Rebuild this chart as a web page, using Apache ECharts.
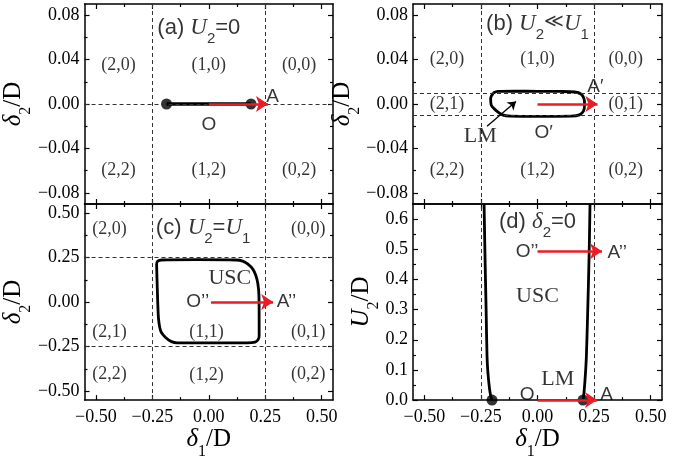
<!DOCTYPE html>
<html><head><meta charset="utf-8">
<script src="https://cdn.jsdelivr.net/npm/echarts@6/dist/echarts.min.js"></script>
<style>html,body{margin:0;padding:0;background:#fff}#c{width:689px;height:461px}</style>
</head><body><div id="c"></div>
<script>
// ---------------- data ----------------
const xTickValues = [-0.5, -0.25, 0, 0.25, 0.5];
const xTickLabels = ['−0.50', '−0.25', '0.00', '0.25', '0.50'];
const xMinorValues = [-0.375, -0.125, 0.125, 0.375];

const yTickValuesAB = [-0.08, -0.04, 0, 0.04, 0.08];
const yTickLabelsAB = ['−0.08', '−0.04', '0.00', '0.04', '0.08'];
const yMinorValuesAB = [-0.06, -0.02, 0.02, 0.06];

const yTickValuesC = [-0.5, -0.25, 0, 0.25, 0.5];
const yTickLabelsC = ['−0.50', '−0.25', '0.00', '0.25', '0.50'];
const yMinorValuesC = [-0.375, -0.125, 0.125, 0.375];

const yTickValuesD = [0, 0.1, 0.2, 0.3, 0.4, 0.5, 0.6];
const yTickLabelsD = ['0.0', '0.1', '0.2', '0.3', '0.4', '0.5', '0.6'];
const yMinorValuesD = [0.05, 0.15, 0.25, 0.35, 0.45, 0.55];

// phase boundaries (dashed)
const dashXA = [-0.25, 0.25], dashYA = [0];
const dashXB = [-0.25, 0.25], dashYB = [-0.01, 0.01];
const dashXC = [-0.25, 0.25], dashYC = [-0.25, 0.25];
const dashXD = [-0.25, 0.25];

// (a) LM segment with end dots
const lineA = [[-0.187, 0], [0.187, 0]];
// (b) LM loop
const loopB = [[-0.195,0.0100],[-0.175,0.0113],[-0.10,0.0115],[0.0,0.0114],[0.10,0.0113],[0.165,0.0108],[0.192,0.0090],[0.205,0.0050],[0.208,-0.0005],[0.203,-0.0065],[0.185,-0.0098],[0.150,-0.0110],[0.0,-0.0112],[-0.120,-0.0110],[-0.155,-0.0098],[-0.185,-0.0055],[-0.205,-0.0005],[-0.207,0.0050],[-0.195,0.0100]];
// (c) USC loop
const loopC = [[-0.231,0.215],[-0.226,0.230],[-0.210,0.236],[-0.05,0.238],[0.120,0.236],[0.150,0.230],[0.172,0.214],[0.195,0.185],[0.208,0.150],[0.217,0.105],[0.222,0.04],[0.223,-0.10],[0.223,-0.190],[0.218,-0.212],[0.205,-0.225],[0.170,-0.229],[-0.140,-0.229],[-0.165,-0.222],[-0.190,-0.200],[-0.212,-0.165],[-0.222,-0.100],[-0.226,0.0],[-0.229,0.120],[-0.231,0.215]];
// (d) boundaries
const curveDLeft = [[-0.201,0],[-0.207,0.015],[-0.212,0.038],[-0.219,0.09],[-0.223,0.146],[-0.227,0.30],[-0.232,0.48],[-0.236,0.65]];
const curveDRight = [[0.201,0],[0.204,0.015],[0.207,0.038],[0.212,0.09],[0.216,0.146],[0.222,0.30],[0.228,0.48],[0.232,0.65]];
const dotsD = [[-0.201, 0], [0.201, 0]];

// arrows [x1, y1, x2, y2]
const arrowsA = [[0, 0, 0.262, 0]];
const arrowsB = [[0, 0, 0.265, 0]];
const arrowsC = [[0.01, 0, 0.285, 0]];
const arrowsD = [[0, 0.493, 0.285, 0.493], [0, 0, 0.263, 0]];
const lmArrowB = [[-0.223, -0.020, -0.095, 0.0023]];

// region labels [text, x, y]
const regionA = [['(2,0)',-0.40,0.035],['(1,0)',0,0.035],['(0,0)',0.40,0.035],['(2,2)',-0.40,-0.060],['(1,2)',0,-0.060],['(0,2)',0.40,-0.060]];
const regionB = [['(2,0)',-0.40,0.04],['(1,0)',0,0.04],['(0,0)',0.39,0.04],['(2,1)',-0.40,0],['(0,1)',0.39,0],['(2,2)',-0.40,-0.06],['(1,2)',0,-0.06],['(0,2)',0.39,-0.06]];
const regionC = [['(2,0)',-0.44,0.41],['(0,0)',0.44,0.41],['(2,1)',-0.44,-0.167],['(1,1)',-0.01,-0.167],['(0,1)',0.44,-0.167],['(2,2)',-0.44,-0.404],['(1,2)',-0.01,-0.413],['(0,2)',0.44,-0.404]];
// point labels (sans)
const pointA = [['O',0,-0.019],['A',0.282,0.0068]];
const pointB = [['A′',0.256,0.0152],['O′',0.027,-0.026]];
const pointC = [['O’’',-0.049,0],['A’’',0.344,0]];
const pointD = [['O’’',-0.046,0.493],['A’’',0.352,0.49],['O',-0.046,0.019],['A',0.305,0.019]];
// phase names (serif)
const phaseB = [['LM',-0.253,-0.029]];
const phaseC = [['USC',0.093,0.134]];
const phaseD = [['USC',0,0.345],['LM',0.09,0.07]];
// panel titles
const titleA = [['{p|(a) }{u|U}{s|2}{p|=0}', -0.044, 0.0675]];
const titleB = [['{p|(b) }{u|U}{s|2}{q|≪}{u|U}{s|1}', 0, 0.071]];
const titleC = [['{p|(c) }{u|U}{s|2}{p|=}{u|U}{s|1}', -0.025, 0.408]];
const titleD = [['{p|(d) }{u|δ}{s|2}{p|=0}', 0, 0.586]];

// ---------------- build ----------------
const SERIF = 'Liberation Serif', SANS = 'Liberation Sans';
const RED = '#ec1c24';

function fmt(values, labels) {
  return v => { const i = values.findIndex(t => Math.abs(t - v) < 1e-9); return i >= 0 ? labels[i] : ''; };
}
const nameRich = {
  d: { fontFamily: SERIF, fontStyle: 'italic', fontSize: 25, lineHeight: 27, verticalAlign: 'top', color: '#000' },
  n: { fontFamily: SERIF, fontSize: 25, lineHeight: 27, verticalAlign: 'top', color: '#000' },
  s: { fontFamily: SERIF, fontSize: 16, lineHeight: 16, padding: [17, 0, 0, 0], verticalAlign: 'top', color: '#000' }
};

function axes(grid, pos1, pos2, min, max, majors, minors, labels, showLabels, name, margin) {
  const base = (pos, ticks, len, line, lab) => ({
    type: 'value', gridIndex: grid, position: pos, min, max,
    axisLine: { show: line, onZero: false, lineStyle: { color: '#000', width: 1.5 } },
    splitLine: { show: false },
    axisTick: { show: true, inside: true, length: len, customValues: ticks, lineStyle: { color: '#000', width: 1.2 } },
    axisLabel: lab ? { show: true, customValues: majors, formatter: fmt(majors, labels), fontFamily: SERIF, fontSize: 18, color: '#000', margin: margin } : { show: false },
    axisPointer: { show: false }
  });
  const main = base(pos1, majors, 5, true, showLabels);
  if (name) {
    main.name = name.text; main.nameLocation = 'middle'; main.nameGap = name.gap;
    main.nameTextStyle = { rich: nameRich };
  }
  return [main, base(pos1, minors, 3, false, false), base(pos2, majors, 5, true, false), base(pos2, minors, 3, false, false)];
}

const xName = { text: '{d|δ}{s|1}{n|/D}', gap: 23 };
const yNameD2 = { text: '{d|δ}{s|2}{n|/D}', gap: 29 };
const yNameU2 = { text: '{d|U}{s|2}{n|/D}', gap: 29 };

const xAxis = [].concat(
  axes(0, 'bottom', 'top', -0.55, 0.55, xTickValues, xMinorValues, xTickLabels, false, null, 8),
  axes(1, 'bottom', 'top', -0.55, 0.55, xTickValues, xMinorValues, xTickLabels, false, null, 8),
  axes(2, 'bottom', 'top', -0.55, 0.55, xTickValues, xMinorValues, xTickLabels, true, xName, 8),
  axes(3, 'bottom', 'top', -0.55, 0.55, xTickValues, xMinorValues, xTickLabels, true, xName, 8)
);
const yAxis = [].concat(
  axes(0, 'left', 'right', -0.09, 0.09, yTickValuesAB, yMinorValuesAB, yTickLabelsAB, true, yNameD2, 5),
  axes(1, 'left', 'right', -0.09, 0.09, yTickValuesAB, yMinorValuesAB, yTickLabelsAB, true, yNameD2, 5),
  axes(2, 'left', 'right', -0.55, 0.55, yTickValuesC, yMinorValuesC, yTickLabelsC, true, yNameD2, 5),
  axes(3, 'left', 'right', 0, 0.65, yTickValuesD, yMinorValuesD, yTickLabelsD, true, yNameU2, 5)
);

const series = [];
const ax = g => ({ xAxisIndex: 4 * g, yAxisIndex: 4 * g });

function dashed(g, xs, ys) {
  series.push(Object.assign({
    type: 'line', data: [], silent: true, z: 1,
    markLine: {
      silent: true, symbol: ['none', 'none'], label: { show: false }, animation: false,
      lineStyle: { type: [4, 3], color: '#333', width: 1 },
      emphasis: { disabled: true },
      data: xs.map(v => ({ xAxis: v })).concat(ys.map(v => ({ yAxis: v })))
    }
  }, ax(g)));
}
function curve(g, data, smooth, width) {
  series.push(Object.assign({
    type: 'line', data, symbol: 'none', smooth: smooth || false, silent: true, z: 3,
    lineStyle: { color: '#000', width: width || 2.8 }
  }, ax(g)));
}
function dots(g, data) {
  series.push(Object.assign({
    type: 'scatter', data, symbol: 'circle', symbolSize: 11, silent: true, z: 4,
    itemStyle: { color: '#000' }
  }, ax(g)));
}
function arrows(g, list, color, width, size) {
  series.push(Object.assign({
    type: 'line', data: [], silent: true, z: 5,
    markLine: {
      silent: true, symbol: ['none', 'arrow'], symbolSize: size, label: { show: false }, animation: false,
      lineStyle: { type: 'solid', color, width }, emphasis: { disabled: true },
      data: list.map(a => [{ coord: [a[0], a[1]] }, { coord: [a[2], a[3]] }])
    }
  }, ax(g)));
}
function texts(g, list, style) {
  series.push(Object.assign({
    type: 'scatter', symbolSize: 0, silent: true, z: 6,
    data: list.map(t => ({ value: [t[1], t[2]], name: t[0] })),
    label: Object.assign({ show: true, position: 'inside', formatter: '{b}', color: '#000' }, style)
  }, ax(g)));
}
const regionStyle = { fontFamily: SERIF, fontSize: 18 };
const pointStyle = { fontFamily: SANS, fontSize: 19 };
const phaseStyle = { fontFamily: SERIF, fontSize: 22 };
const titleStyle = {
  rich: {
    p: { fontFamily: SANS, fontSize: 22, lineHeight: 25, verticalAlign: 'top', color: '#000' },
    q: { fontFamily: 'DejaVu Sans', fontSize: 19, lineHeight: 25, verticalAlign: 'top', color: '#000' },
    u: { fontFamily: SERIF, fontStyle: 'italic', fontSize: 23, lineHeight: 25, verticalAlign: 'top', color: '#000' },
    s: { fontFamily: SANS, fontSize: 15, lineHeight: 15, padding: [15, 0, 0, 0], verticalAlign: 'top', color: '#000' }
  }
};

// (a)
dashed(0, dashXA, dashYA);
curve(0, lineA, false, 3.5);
dots(0, lineA);
arrows(0, arrowsA, RED, 2.5, 12);
texts(0, regionA, regionStyle);
texts(0, pointA, pointStyle);
texts(0, titleA, titleStyle);
// (b)
dashed(1, dashXB, dashYB);
curve(1, loopB, 0.3);
arrows(1, arrowsB, RED, 2.5, 12);
arrows(1, lmArrowB, '#000', 1.3, 8);
texts(1, regionB, regionStyle);
texts(1, pointB, pointStyle);
texts(1, phaseB, phaseStyle);
texts(1, titleB, titleStyle);
// (c)
dashed(2, dashXC, dashYC);
curve(2, loopC, 0.3);
arrows(2, arrowsC, RED, 2.5, 12);
texts(2, regionC, regionStyle);
texts(2, pointC, pointStyle);
texts(2, phaseC, phaseStyle);
texts(2, titleC, titleStyle);
// (d)
dashed(3, dashXD, []);
curve(3, curveDLeft, 0.3);
curve(3, curveDRight, 0.3);
dots(3, dotsD);
arrows(3, arrowsD, RED, 2.5, 12);
texts(3, pointD, pointStyle);
texts(3, phaseD, phaseStyle);
texts(3, titleD, titleStyle);

const chart = echarts.init(document.getElementById('c'), null, { renderer: 'canvas' });
chart.setOption({
  animation: false,
  backgroundColor: '#fff',
  textStyle: { fontFamily: SERIF },
  grid: [
    { left: 84, top: 4, width: 249, height: 200 },
    { left: 413, top: 4, width: 249, height: 200 },
    { left: 84, top: 204, width: 249, height: 201 },
    { left: 413, top: 204, width: 249, height: 201 }
  ],
  xAxis, yAxis, series
});
</script></body></html>
